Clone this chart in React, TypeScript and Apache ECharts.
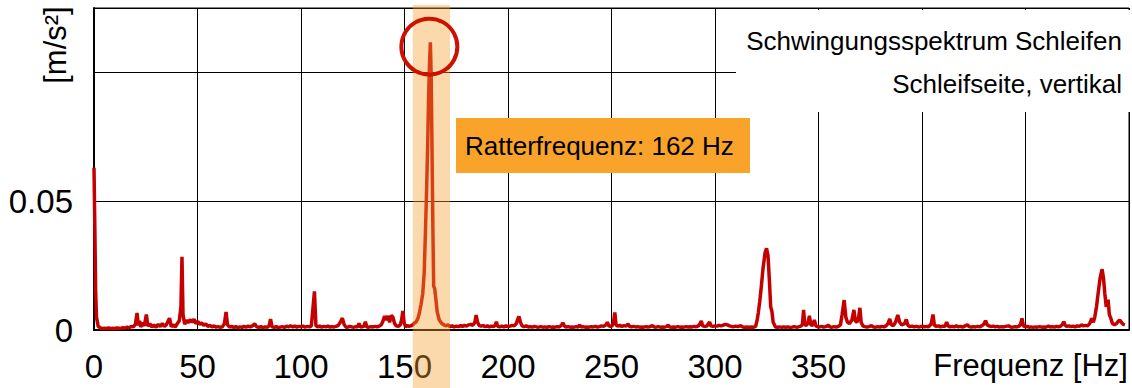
import React, { useEffect, useRef } from 'react';
import * as echarts from 'echarts';

const FONT = '"Liberation Sans", Arial, Helvetica, sans-serif';

const xTickStep = 50;
const xMax = 500;
const yMax = 0.125;
const yTickStep = 0.05;
const shownXLabels = [0, 50, 100, 150, 200, 250, 300, 350];
const shownYLabels = ['0', '0.05'];

const titleLines = ['Schwingungsspektrum Schleifen', 'Schleifseite, vertikal'];
const annotationText = 'Ratterfrequenz: 162 Hz';
const xAxisName = 'Frequenz [Hz]';
const yAxisName = '[m/s²]';

const chatterFreq = 162;
const chatterAmp = 0.11;
const bandFrom = 154;
const bandTo = 172;

const spec0to50: [number, number][] = [
  [0, 0.063], [0.4, 0.04], [0.8, 0.015], [1.2, 0.005], [2, 0.0015], [3, 0.0008], [4, 0.0006], [5, 0.0007],
  [6, 0.0006], [7, 0.0008], [8, 0.0006], [9, 0.0007], [10, 0.0006], [11, 0.0008], [12, 0.0007], [13, 0.0006],
  [14, 0.0009], [15, 0.0007], [16, 0.0011], [17, 0.0008], [18, 0.0014], [19, 0.0012], [20, 0.0022], [20.8, 0.0066],
  [21.4, 0.0018], [22, 0.0035], [22.6, 0.0012], [23.5, 0.0028], [24.3, 0.0016], [25.3, 0.006], [26, 0.0015],
  [27, 0.0024], [28, 0.0012], [29, 0.0019], [30, 0.0011], [31, 0.0022], [32, 0.0013], [33, 0.0025], [34, 0.0014],
  [35, 0.0021], [36.5, 0.0046], [37.3, 0.0013], [38.2, 0.002], [39.2, 0.0012], [40.2, 0.0024], [41.2, 0.0036],
  [42, 0.009], [42.5, 0.0284], [43, 0.006], [43.8, 0.0022], [44.6, 0.0038], [45.5, 0.0028], [46.4, 0.004],
  [47.4, 0.003], [48.3, 0.0042], [49.2, 0.0025], [50.2, 0.0033],
];

const spec50to100: [number, number][] = [
  [51, 0.0022], [52, 0.0028], [53, 0.0018], [54, 0.0024], [55, 0.0014], [56, 0.0018], [57, 0.0012], [58, 0.0016],
  [59, 0.0011], [60, 0.0013], [61, 0.001], [62, 0.0012], [63, 0.0025], [63.8, 0.007], [64.5, 0.002], [65.5, 0.0011],
  [66.5, 0.0014], [67.5, 0.001], [68.5, 0.0013], [69.5, 0.0009], [70.5, 0.0012], [71.5, 0.001], [72.5, 0.0014],
  [73.5, 0.0011], [74.5, 0.0015], [75.5, 0.0012], [76.5, 0.0016], [77.7, 0.0024], [78.6, 0.0012], [79.6, 0.001],
  [80.6, 0.0013], [81.6, 0.0009], [82.6, 0.0012], [83.6, 0.001], [84.6, 0.0016], [85.3, 0.0042], [86, 0.0012],
  [87, 0.001], [88, 0.0013], [89, 0.0009], [90, 0.0011], [91, 0.0013], [92, 0.001], [93, 0.0015], [94, 0.0012],
  [95, 0.0017], [96, 0.0012], [97, 0.0015], [98, 0.0011], [99, 0.0014], [100, 0.0012],
];

const spec100to150: [number, number][] = [
  [101, 0.0015], [102, 0.0011], [103, 0.0014], [104, 0.0012], [105, 0.0016], [106.5, 0.015], [107.2, 0.0018],
  [108, 0.0012], [109, 0.0015], [110, 0.0011], [111, 0.0014], [112, 0.0012], [113, 0.0015], [114, 0.0011],
  [115, 0.0013], [116, 0.0012], [117, 0.0014], [118, 0.0018], [119, 0.003], [120, 0.0046], [120.8, 0.0022],
  [121.6, 0.0012], [122.6, 0.0011], [123.6, 0.0014], [124.6, 0.0012], [125.6, 0.0011], [126.6, 0.0013],
  [127.3, 0.0012], [128, 0.0026], [128.7, 0.0011], [129.6, 0.0013], [130.4, 0.0014], [131.1, 0.0032],
  [131.8, 0.0012], [132.8, 0.0011], [133.8, 0.0013], [134.8, 0.0012], [135.8, 0.0014], [136.8, 0.0012],
  [137.8, 0.0015], [138.8, 0.002], [139.6, 0.0035], [140.4, 0.0054], [141.2, 0.0038], [142, 0.0055],
  [142.8, 0.003], [143.6, 0.0057], [144.4, 0.005], [145.2, 0.0025], [146, 0.0016], [147, 0.0014], [148, 0.002],
  [148.6, 0.004], [149.2, 0.0074], [149.8, 0.003], [150.5, 0.0012],
];

const spec150to200: [number, number][] = [
  [151.3, 0.0018], [152, 0.0014], [153, 0.0016], [154, 0.002], [154.8, 0.0027], [155.5, 0.003], [156.5, 0.0045],
  [157.2, 0.0066], [158, 0.01], [158.8, 0.014], [159.5, 0.022], [160.1, 0.0376], [160.7, 0.055], [161.2, 0.072],
  [161.6, 0.089], [162.1, 0.104], [162.5, 0.1117], [162.9, 0.098], [163.3, 0.07], [163.7, 0.04], [164.1, 0.017],
  [164.6, 0.016], [165.2, 0.0116], [165.8, 0.007], [166.8, 0.0039], [168, 0.0025], [169.2, 0.0019],
  [170.2, 0.0016], [171, 0.002], [172, 0.0013], [173, 0.0016], [174, 0.0012], [175, 0.0015], [176, 0.0013],
  [177.2, 0.0017], [178, 0.0014], [179, 0.0018], [180, 0.0015], [181, 0.002], [182, 0.0022], [183, 0.0018],
  [184, 0.003], [184.6, 0.0058], [185.3, 0.003], [186, 0.0018], [187, 0.0015], [188, 0.0017], [189, 0.0013],
  [190, 0.0016], [191, 0.0012], [192, 0.0015], [193, 0.0013], [193.8, 0.0018], [194.4, 0.0032], [195, 0.0014],
  [196, 0.0012], [197, 0.0015], [198, 0.0012], [199, 0.0016], [200, 0.0013],
];

const spec200to253: [number, number][] = [
  [201, 0.0015], [202, 0.0018], [203, 0.0016], [204, 0.0025], [204.7, 0.0042], [205.3, 0.0053], [206, 0.003],
  [206.8, 0.0016], [207.8, 0.0013], [208.8, 0.0016], [209.8, 0.0012], [210.8, 0.0013], [211.8, 0.0011],
  [212.8, 0.0014], [213.8, 0.0012], [214.8, 0.0011], [215.8, 0.0013], [216.8, 0.0011], [217.8, 0.0012],
  [218.8, 0.001], [219.8, 0.0013], [220.8, 0.0011], [221.8, 0.0012], [222.8, 0.0011], [223.8, 0.0013],
  [224.8, 0.0012], [225.8, 0.0018], [226.5, 0.0028], [227.2, 0.0016], [228, 0.0011], [229, 0.0013],
  [230, 0.0011], [231, 0.0012], [232, 0.0011], [233, 0.0013], [234, 0.0012], [234.6, 0.002], [235.3, 0.0011],
  [236.2, 0.0013], [237.2, 0.0011], [238.2, 0.0012], [239.2, 0.0011], [240.2, 0.0013], [241.2, 0.0012],
  [242.2, 0.0014], [243.2, 0.0011], [244.2, 0.0013], [245.2, 0.0016], [246.2, 0.0014], [247.3, 0.002],
  [248, 0.003], [248.7, 0.0016], [249.5, 0.0014], [250.3, 0.0016], [251, 0.003], [251.6, 0.0068],
  [252.2, 0.002], [253, 0.0015],
];

const spec253to300: [number, number][] = [
  [254, 0.0018], [255, 0.0014], [256, 0.0017], [257, 0.0015], [258, 0.0024], [258.7, 0.0014], [259.6, 0.0012],
  [260.6, 0.0014], [261.6, 0.0012], [262.6, 0.0013], [263.6, 0.0011], [264.6, 0.0012], [265.6, 0.0011],
  [266.6, 0.0013], [267.6, 0.0012], [268.6, 0.0013], [269.7, 0.0017], [270.6, 0.0012], [271.6, 0.0011],
  [272.6, 0.0013], [273.6, 0.0011], [274.6, 0.0012], [275.6, 0.0011], [276.6, 0.0013], [277.3, 0.0019],
  [278, 0.0012], [279, 0.0011], [280, 0.0012], [281, 0.0011], [282, 0.0013], [283, 0.0011], [284, 0.0012],
  [285, 0.0011], [286, 0.0013], [287, 0.0012], [288, 0.0013], [289, 0.0012], [290, 0.0014], [291, 0.0013],
  [292, 0.0016], [292.8, 0.0025], [293.4, 0.0035], [294, 0.0016], [295, 0.0014], [296, 0.0015], [296.8, 0.0024],
  [297.4, 0.0031], [298, 0.0016], [299, 0.0014], [300, 0.0016],
];

const spec300to350: [number, number][] = [
  [301, 0.0015], [302, 0.0018], [303, 0.0016], [304, 0.0019], [305, 0.0022], [306, 0.002], [307, 0.0016],
  [308, 0.0014], [309, 0.0013], [310, 0.0015], [311, 0.0013], [312.4, 0.0017], [313.4, 0.0012], [314.4, 0.0011],
  [315.4, 0.0012], [316.4, 0.0011], [317.4, 0.0012], [318.4, 0.0011], [319.6, 0.0013], [320.4, 0.004],
  [320.9, 0.0066], [321.6, 0.011], [322.4, 0.017], [323.2, 0.024], [324.2, 0.03], [324.9, 0.0317],
  [325.6, 0.029], [326.3, 0.019], [326.9, 0.009], [327.5, 0.0072], [328.1, 0.003], [329.2, 0.0012],
  [330.2, 0.0011], [331.2, 0.0012], [332.2, 0.001], [333.2, 0.0012], [334.2, 0.0011], [335.2, 0.0012],
  [336.2, 0.001], [337.2, 0.0011], [338.2, 0.0013], [339.2, 0.0011], [340.2, 0.0012], [341.2, 0.0014],
  [342.2, 0.002], [342.8, 0.0078], [343.4, 0.002], [344.2, 0.0018], [345, 0.003], [345.6, 0.0055],
  [346.3, 0.002], [347.2, 0.0018], [348, 0.0039], [348.7, 0.0016], [349.6, 0.0013],
];

const spec350to400: [number, number][] = [
  [350.5, 0.0012], [351.5, 0.0014], [352.5, 0.0011], [353.5, 0.0013], [354.8, 0.0018], [355.6, 0.0012],
  [356.6, 0.0011], [357.6, 0.0013], [358.6, 0.0011], [359.6, 0.0014], [360.6, 0.002], [361.4, 0.006],
  [362.4, 0.0116], [363.2, 0.005], [364, 0.003], [365, 0.0025], [366.2, 0.004], [367.1, 0.0078], [367.8, 0.0035],
  [368.6, 0.003], [369.4, 0.005], [370, 0.0086], [370.6, 0.003], [371.4, 0.0016], [372.4, 0.0013],
  [373.4, 0.0011], [374.4, 0.0013], [375.6, 0.0017], [376.6, 0.0012], [377.6, 0.0011], [378.6, 0.0013],
  [379.6, 0.0011], [380.6, 0.0014], [381.6, 0.0012], [382.6, 0.0016], [383.6, 0.0025], [384.4, 0.0043],
  [385.2, 0.002], [386.2, 0.0017], [387.2, 0.003], [388.3, 0.0058], [389.2, 0.003], [390.2, 0.002],
  [391.6, 0.0025], [392.4, 0.0041], [393.2, 0.0018], [394.2, 0.0013], [395.2, 0.0015], [396.2, 0.0012],
  [397.2, 0.0014], [398.2, 0.0012], [399.2, 0.0013],
];

const spec400to450: [number, number][] = [
  [400.2, 0.0015], [401.2, 0.0012], [402.2, 0.0014], [403.2, 0.0013], [404.4, 0.0022], [405.3, 0.006],
  [406, 0.0018], [407, 0.0014], [408, 0.0016], [409, 0.0012], [410, 0.0015], [411, 0.0013], [411.9, 0.003],
  [412.6, 0.0016], [413.6, 0.0012], [414.6, 0.0014], [415.6, 0.0012], [416.6, 0.0016], [417.6, 0.0012],
  [418.6, 0.0014], [419.6, 0.0011], [420.6, 0.0015], [421.9, 0.002], [422.8, 0.0013], [423.8, 0.0011],
  [424.8, 0.0013], [425.8, 0.0012], [426.8, 0.0014], [427.8, 0.0012], [428.8, 0.0016], [429.8, 0.0022],
  [430.7, 0.0036], [431.5, 0.002], [432.4, 0.0016], [433.4, 0.0013], [434.4, 0.0015], [435.4, 0.0012],
  [436.4, 0.0014], [437.4, 0.0011], [438.4, 0.0013], [439.4, 0.0012], [440.4, 0.0014], [441.9, 0.0016],
  [442.8, 0.0012], [443.8, 0.0011], [444.8, 0.0013], [445.8, 0.0012], [446.8, 0.0014], [447.6, 0.0022],
  [448.3, 0.0045], [449, 0.0016], [449.8, 0.0013],
];

const spec450to498: [number, number][] = [
  [450.8, 0.0014], [451.8, 0.0011], [452.8, 0.0012], [453.8, 0.001], [454.8, 0.0012], [455.8, 0.0011],
  [456.8, 0.0013], [457.8, 0.0011], [458.8, 0.0012], [459.8, 0.0011], [461.1, 0.0015], [462, 0.0012],
  [463, 0.0013], [464, 0.0011], [465, 0.0014], [466, 0.0012], [467, 0.0015], [467.8, 0.0022], [468.5, 0.0032],
  [469.2, 0.0018], [470, 0.0014], [471, 0.0016], [472, 0.0013], [473, 0.0015], [474, 0.0012], [475, 0.0016],
  [476, 0.0014], [477.1, 0.002], [478, 0.0016], [479, 0.0018], [480, 0.0016], [481, 0.0025], [482, 0.0045],
  [482.8, 0.003], [483.5, 0.0052], [484.3, 0.009], [485.1, 0.0143], [486, 0.02], [487, 0.0236], [487.7, 0.02],
  [488.3, 0.0143], [489, 0.009], [489.9, 0.0118], [490.5, 0.006], [491.2, 0.0046], [492, 0.0025], [493, 0.002],
  [494, 0.0025], [494.8, 0.0034], [495.5, 0.0039], [496.3, 0.003], [497.2, 0.0022], [498, 0.002],
];

export default function App() {
  const ref = useRef<HTMLDivElement>(null);

  useEffect(() => {
    document.body.style.margin = '0';
    const el = ref.current;
    if (!el) return;
    const chart = echarts.init(el, null, { renderer: 'svg' });

    const spectrum = [
      ...spec0to50, ...spec50to100, ...spec100to150, ...spec150to200, ...spec200to253,
      ...spec253to300, ...spec300to350, ...spec350to400, ...spec400to450, ...spec450to498,
    ];

    chart.setOption({
      animation: false,
      grid: {
        left: 94, top: 8, width: 1042, height: 322,
        show: true, borderColor: '#000', borderWidth: 1, backgroundColor: 'transparent',
      },
      xAxis: {
        type: 'value', min: 0, max: xMax, interval: xTickStep,
        axisLine: { show: true, onZero: false, lineStyle: { color: '#000', width: 2 } },
        axisTick: { show: false },
        splitLine: { show: true, lineStyle: { color: '#000', width: 1 } },
        axisLabel: {
          formatter: (v: number) => (shownXLabels.includes(Math.round(v)) ? String(Math.round(v)) : ''),
          fontSize: 33, color: '#000', margin: 20, fontFamily: FONT,
        },
      },
      yAxis: {
        type: 'value', min: 0, max: yMax, interval: yTickStep,
        axisLine: { show: true, lineStyle: { color: '#000', width: 2 } },
        axisTick: { show: false },
        splitLine: { show: true, lineStyle: { color: '#000', width: 1 } },
        axisLabel: {
          formatter: (v: number) => {
            const s = Math.abs(v) < 1e-9 ? '0' : Math.abs(v - 0.05) < 1e-9 ? '0.05' : '';
            return shownYLabels.includes(s) ? s : '';
          },
          fontSize: 33, color: '#000', margin: 21, fontFamily: FONT,
        },
      },
      series: [
        {
          type: 'line', data: spectrum, symbol: 'none', showSymbol: false,
          lineStyle: { color: '#C40000', width: 3.5 }, itemStyle: { color: '#C40000' }, z: 3,
        },
      ],
    });

    const px = (x: number, y: number) => chart.convertToPixel({ gridIndex: 0 }, [x, y]) as number[];
    const b0 = px(bandFrom, 0);
    const b1 = px(bandTo, 0);
    const c = px(chatterFreq, chatterAmp);

    chart.setOption({
      graphic: [
        { type: 'rect', z: 1, shape: { x: 736, y: 10, width: 400, height: 102 }, style: { fill: '#fff' } },
        {
          type: 'text', z: 2, x: 1122, y: 41,
          style: { text: titleLines[0], font: `26px ${FONT}`, fill: '#000', textAlign: 'right', textVerticalAlign: 'middle' },
        },
        {
          type: 'text', z: 2, x: 1122, y: 84,
          style: { text: titleLines[1], font: `26px ${FONT}`, fill: '#000', textAlign: 'right', textVerticalAlign: 'middle' },
        },
        {
          type: 'rect', z: 10,
          shape: { x: b0[0], y: 5, width: b1[0] - b0[0], height: 383 },
          style: { fill: 'rgba(248,160,48,0.4)' },
        },
        {
          type: 'circle', z: 12,
          shape: { cx: c[0], cy: c[1], r: 28 },
          style: { fill: 'none', stroke: '#CC1100', lineWidth: 4 },
        },
        { type: 'rect', z: 11, shape: { x: 456, y: 118, width: 294, height: 55 }, style: { fill: '#F9A32A' } },
        {
          type: 'text', z: 12, x: 465, y: 146,
          style: { text: annotationText, font: `26px ${FONT}`, fill: '#000', textAlign: 'left', textVerticalAlign: 'middle' },
        },
        {
          type: 'text', z: 5, x: 1128, y: 365,
          style: { text: xAxisName, font: `31px ${FONT}`, fill: '#000', textAlign: 'right', textVerticalAlign: 'middle' },
        },
        {
          type: 'text', z: 5, x: 55, y: 45, rotation: Math.PI / 2,
          style: { text: yAxisName, font: `31px ${FONT}`, fill: '#000', textAlign: 'center', textVerticalAlign: 'middle' },
        },
      ],
    });

    return () => chart.dispose();
  }, []);

  return <div ref={ref} style={{ width: 1132, height: 388 }} />;
}
